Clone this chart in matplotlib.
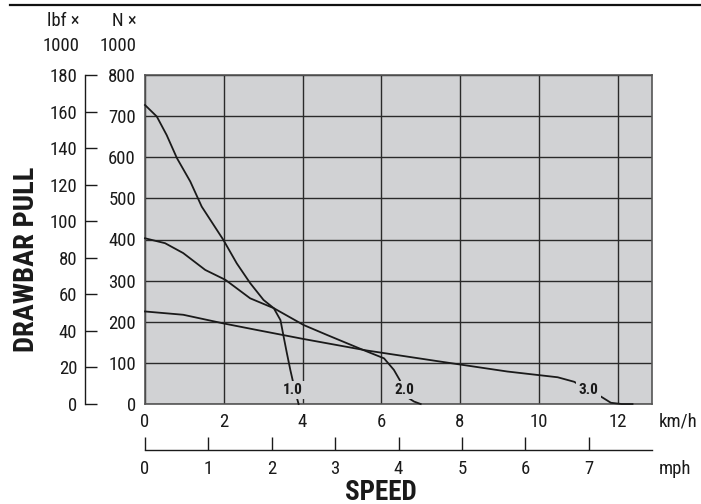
import matplotlib
matplotlib.use("Agg")
import matplotlib.pyplot as plt
from matplotlib.lines import Line2D

plt.rcParams['font.family'] = ['Roboto Condensed', 'DejaVu Sans']
plt.rcParams['font.weight'] = 'normal'

# ---- data (speed in km/h, drawbar pull in kN) ----
gear1_x = [0, 0.30, 0.55, 0.81, 1.15, 1.44, 1.99, 2.33, 2.67, 3.01, 3.27, 3.44, 3.52, 3.60, 3.69, 3.78, 3.86, 3.90]
gear1_y = [727, 699, 654, 598, 541, 480, 399, 342, 294, 253, 233, 204, 164, 125, 83, 45, 14, 0]
gear2_x = [0, 0.51, 0.97, 1.53, 2.04, 2.67, 3.27, 4.03, 4.62, 5.55, 6.07, 6.32, 6.47, 6.58, 6.70, 6.83, 7.0]
gear2_y = [403, 391, 367, 326, 302, 257, 233, 192, 168, 131, 111, 83, 58, 35, 14, 6, 0]
gear3_x = [0, 0.97, 1.99, 2.84, 4.03, 5.64, 7.51, 9.2, 10.48, 10.9, 11.1, 11.58, 11.83, 12.1, 12.38]
gear3_y = [225, 217, 196, 180, 158, 130, 103, 79, 65, 54, 42, 18, 3, 0, 0]
gear_labels = ["1.0", "2.0", "3.0"]
gear_label_x = [3.75, 6.59, 11.27]
gear_label_y = [34, 34, 34]

kmh_ticks = [0, 2, 4, 6, 8, 10, 12]
mph_ticks = [0, 1, 2, 3, 4, 5, 6, 7]
kn_ticks = [0, 100, 200, 300, 400, 500, 600, 700, 800]
lbf_ticks = [0, 20, 40, 60, 80, 100, 120, 140, 160, 180]

W, H = 701, 504
BG = '#d1d2d4'
TXT = '#1a1a1a'
FS = 13.5
fig = plt.figure(figsize=(W / 100, H / 100), dpi=100)

L, R, T, B = 145, 652, 75, 404
ax = fig.add_axes([L / W, 1 - B / H, (R - L) / W, (B - T) / H])
ax.set_facecolor(BG)
ax.set_xlim(0, 8 * 1.609344)
ax.set_ylim(0, 800)
ax.set_xticks(kmh_ticks)
ax.set_yticks(kn_ticks)
ax.grid(True, color='#2a2a2a', lw=1.0)
ax.set_axisbelow(True)
ax.tick_params(axis='both', length=0, labelsize=FS, colors=TXT)
ax.tick_params(axis='y', pad=6.5)
ax.tick_params(axis='x', pad=6.5)
for s in ax.spines.values():
    s.set_color('#555555')
    s.set_linewidth(1.2)

for gx, gy in [(gear1_x, gear1_y), (gear2_x, gear2_y), (gear3_x, gear3_y)]:
    ax.plot(gx, gy, color='#1a1a1a', lw=1.3, zorder=3, clip_on=False)
for lab, lx, ly in zip(gear_labels, gear_label_x, gear_label_y):
    ax.text(lx, ly, lab, ha='center', va='center', fontsize=11, fontweight='bold',
            color='#1a1a1a', zorder=4,
            bbox=dict(facecolor=BG, edgecolor='none', pad=1.8))

# lbf axis on the left
ax2 = ax.twinx()
ax2.set_ylim(0, 180)
ax2.set_yticks(lbf_ticks)
ax2.yaxis.set_ticks_position('left')
ax2.spines['left'].set_position(('axes', (85 - L) / (R - L)))
for k in ['right', 'top', 'bottom']:
    ax2.spines[k].set_visible(False)
ax2.spines['left'].set_visible(True)
ax2.spines['left'].set_color(TXT)
ax2.spines['left'].set_linewidth(1.0)
ax2.tick_params(axis='y', direction='in', length=8.6, width=1.0, pad=5.5,
                labelsize=FS, colors=TXT)

# mph axis at the bottom
ax3 = ax.twiny()
ax3.set_xlim(0, 8)
ax3.set_xticks(mph_ticks)
ax3.xaxis.set_ticks_position('bottom')
ax3.spines['bottom'].set_position(('axes', -(450 - B) / (B - T)))
for k in ['right', 'top', 'left']:
    ax3.spines[k].set_visible(False)
ax3.spines['bottom'].set_visible(True)
ax3.spines['bottom'].set_color(TXT)
ax3.spines['bottom'].set_linewidth(1.0)
ax3.tick_params(axis='x', direction='in', length=9.4, width=1.0, pad=7.5,
                labelsize=FS, colors=TXT)

def ftext(x, y, s, **kw):
    fig.text(x / W, 1 - y / H, s, **kw)

ftext(80, 21, 'lbf ×', ha='right', va='center', fontsize=FS, color=TXT)
ftext(80, 46, '1000', ha='right', va='center', fontsize=FS, color=TXT)
ftext(137, 21, 'N ×', ha='right', va='center', fontsize=FS, color=TXT)
ftext(137, 46, '1000', ha='right', va='center', fontsize=FS, color=TXT)
ftext(659, 421, 'km/h', ha='left', va='center', fontsize=FS, color=TXT)
ftext(659, 469, 'mph', ha='left', va='center', fontsize=FS, color=TXT)
ftext(381, 492, 'SPEED', ha='center', va='center', fontsize=19.5, fontweight='bold', color=TXT)
ftext(27, 259, 'DRAWBAR PULL', ha='center', va='center', rotation=90, fontsize=20.5,
      fontweight='bold', color=TXT)

fig.add_artist(Line2D([10 / W, 1], [1 - 5 / H, 1 - 5 / H], color='#111111', lw=1.6,
                      transform=fig.transFigure))

fig.savefig('out.png', dpi=100)
